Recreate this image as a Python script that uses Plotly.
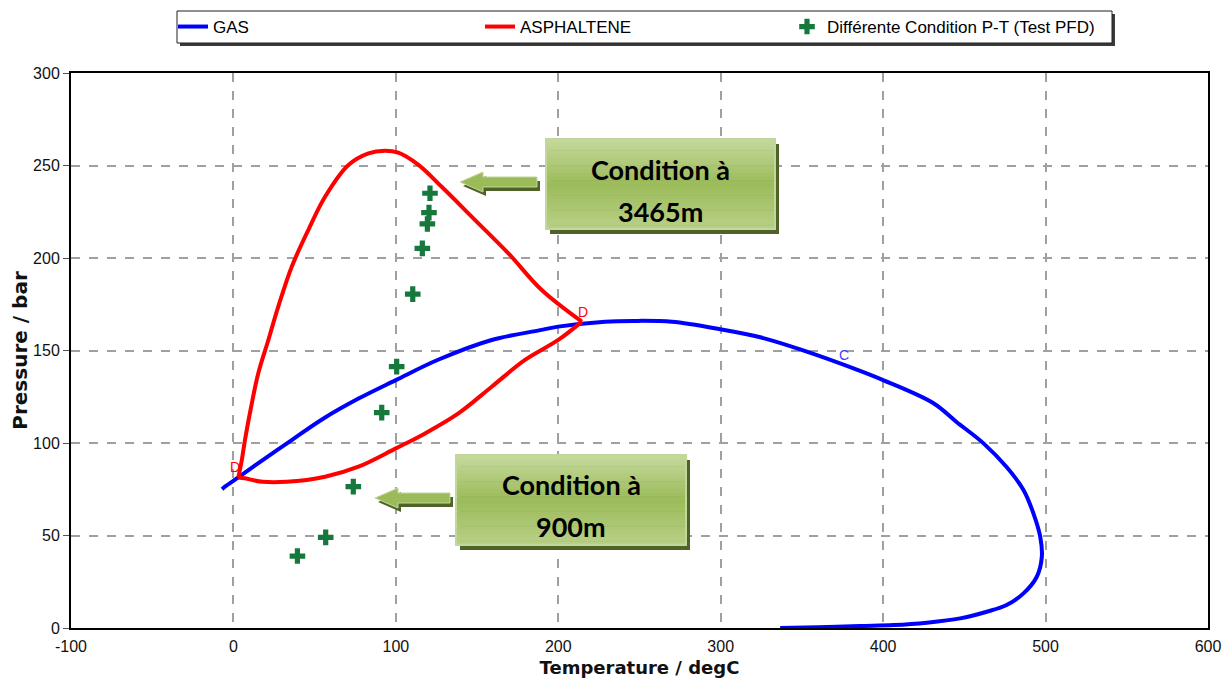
import plotly.graph_objects as go

# ---------------- data ----------------
gas_T = [-7, -5.2, 3, 20, 35.9, 55, 77, 100, 126, 159, 188.8, 200, 228.8, 246, 270,
         299.6, 325, 348.9, 385.8, 400, 431, 445, 461.8, 476, 486.4, 492.5, 496.7,
         497.7, 494.6, 486.4, 476, 463.8, 447.4, 426.9, 406.4, 385.8, 360, 336.6]
gas_P = [75, 76.4, 81.4, 92, 101.6, 113, 124, 134, 145, 155.7, 161, 162.9, 165.6, 166, 165.5,
         161.5, 157, 150.6, 139, 134, 121.5, 111.5, 99.8, 87, 74.6, 62, 49.4,
         38.5, 27.7, 18.7, 12.4, 8.8, 5.2, 2.9, 1.6, 1.1, 0.4, 0]

# asphaltene envelope: upper branch then lower branch (both from D to D)
asph_up_T = [3, 5, 7.1, 11, 15.3, 21.5, 27.6, 35.9, 46.1, 56.4, 70.8, 83.1, 93.3, 101.5,
             113.9, 128.2, 148.8, 169.3, 189.8, 214.5]
asph_up_P = [81.4, 90, 101.6, 120, 137.7, 155.7, 173.7, 195.3, 215.1, 233.1, 250.3, 256.6, 258, 256.9,
             250.3, 238.5, 220.5, 202.5, 182.7, 165.6]
asph_lo_T = [214.5, 200, 179.5, 159, 138.5, 118, 100, 77, 56.4, 32.8, 18, 7.1, 3]
asph_lo_P = [165.6, 155.7, 144.9, 130.4, 116, 105.2, 97.1, 87.2, 81.8, 79, 79, 80.9, 81.4]

pfd_T = [39.4, 56.8, 73.8, 91.3, 100.5, 110.4, 116.3, 119.4, 120.4, 121]
pfd_P = [38.9, 49, 76.4, 116.4, 141.3, 180.5, 205.2, 218.4, 224.5, 235]

d_label_T = [1, 215.5]
d_label_P = [87, 171]
c_label_T = [375.6]
c_label_P = [147.6]

x_ticks = [-100, 0, 100, 200, 300, 400, 500, 600]
y_ticks = [0, 50, 100, 150, 200, 250, 300]

box_texts = [("Condition à", "3465m"), ("Condition à", "900m")]

# ---------------- layout helpers (screen pixel -> paper) ----------------
OFF = 8  # page body margin
SW, SH = 1232, 681
L, R, T, B = 71, 1208, 73, 628
W, H = SW - OFF, SH - OFF


def px(x):
    return (x - L) / (R - L)


def py(y):
    return (B - y) / (B - T)


fig = go.Figure()

fig.add_trace(go.Scatter(x=gas_T, y=gas_P, mode="lines", name="GAS",
                         line=dict(color="#0000ff", width=4, shape="spline", smoothing=1.0)))
fig.add_trace(go.Scatter(x=asph_up_T, y=asph_up_P, mode="lines", name="ASPHALTENE",
                         legendgroup="asph",
                         line=dict(color="#ff0000", width=4, shape="spline", smoothing=1.0)))
fig.add_trace(go.Scatter(x=asph_lo_T, y=asph_lo_P, mode="lines", name="ASPHALTENE",
                         legendgroup="asph", showlegend=False,
                         line=dict(color="#ff0000", width=4, shape="spline", smoothing=1.0)))
fig.add_trace(go.Scatter(x=pfd_T, y=pfd_P, mode="markers",
                         name="Différente Condition P-T (Test PFD)",
                         marker=dict(symbol="cross", size=13, color="#16783c",
                                     line=dict(width=0))))

shapes = []

# legend frame with shadow
shapes.append(dict(type="rect", xref="paper", yref="paper", layer="above",
                   x0=px(180), x1=px(1115), y0=py(14), y1=py(46),
                   fillcolor="#3a3a3a", line=dict(width=0)))
shapes.append(dict(type="rect", xref="paper", yref="paper", layer="above",
                   x0=px(177), x1=px(1112), y0=py(11), y1=py(43),
                   fillcolor="white", line=dict(color="#202020", width=1)))


def lerp(c1, c2, t):
    return tuple(int(round(a + (b - a) * t)) for a, b in zip(c1, c2))


top_c = (198, 217, 158)
mid_c = (155, 187, 89)
bot_c = (185, 208, 136)


def grad_color(t):
    if t < 0.5:
        c = lerp(top_c, mid_c, t / 0.5)
    else:
        c = lerp(mid_c, bot_c, (t - 0.5) / 0.5)
    return "rgb(%d,%d,%d)" % c


def add_box(x0, y0, x1, y1):
    shapes.append(dict(type="rect", xref="paper", yref="paper", layer="above",
                       x0=px(x0 + 4), x1=px(x1 + 4), y0=py(y0 + 5), y1=py(y1 + 5),
                       fillcolor="rgb(79,98,40)", line=dict(width=0)))
    n = 24
    for i in range(n):
        ya = y0 + (y1 - y0) * i / n
        yb = y0 + (y1 - y0) * (i + 1) / n
        shapes.append(dict(type="rect", xref="paper", yref="paper", layer="above",
                           x0=px(x0), x1=px(x1), y0=py(ya), y1=py(yb + 0.6),
                           fillcolor=grad_color((i + 0.5) / n), line=dict(width=0)))
    shapes.append(dict(type="rect", xref="paper", yref="paper", layer="above",
                       x0=px(x0), x1=px(x1), y0=py(y0), y1=py(y1),
                       fillcolor="rgba(0,0,0,0)", line=dict(color="rgb(195,214,155)", width=2)))


def arrow_path(tip_x, tip_y, head_x, tail_x, hh, th, dx=0, dy=0):
    pts = [(tip_x, tip_y), (head_x, tip_y - hh), (head_x, tip_y - th), (tail_x, tip_y - th),
           (tail_x, tip_y + th), (head_x, tip_y + th), (head_x, tip_y + hh)]
    return "M " + " L ".join("%f,%f" % (px(x + dx), py(y + dy)) for x, y in pts) + " Z"


def add_arrow(tip_x, tip_y, head_x, tail_x):
    shapes.append(dict(type="path", xref="paper", yref="paper", layer="above",
                       path=arrow_path(tip_x, tip_y, head_x, tail_x, 10, 5, 3, 4),
                       fillcolor="rgb(79,98,40)", line=dict(width=0)))
    shapes.append(dict(type="path", xref="paper", yref="paper", layer="above",
                       path=arrow_path(tip_x, tip_y, head_x, tail_x, 10, 5),
                       fillcolor="rgb(155,187,89)", line=dict(color="rgb(195,214,155)", width=1)))


add_arrow(460, 182, 483, 537)
add_arrow(375, 498, 398, 450)
add_box(546, 139, 775, 229)
add_box(456, 455, 686, 545)

annotations = []
box_centers = [(660, 169, 211), (571, 484, 526)]
for (l1, l2), (cx, y1, y2) in zip(box_texts, box_centers):
    for txt, yy in ((l1, y1), (l2, y2)):
        annotations.append(dict(xref="paper", yref="paper", x=px(cx), y=py(yy), text="<b>%s</b>" % txt,
                                showarrow=False, xanchor="center", yanchor="middle",
                                font=dict(family="Lato", size=27, color="black")))

for t, p in zip(d_label_T, d_label_P):
    annotations.append(dict(x=t, y=p, text="D", showarrow=False, xanchor="center", yanchor="middle",
                            font=dict(family="Liberation Sans", size=14, color="#ff0000")))
for t, p in zip(c_label_T, c_label_P):
    annotations.append(dict(x=t, y=p, text="C", showarrow=False, xanchor="center", yanchor="middle",
                            font=dict(family="Liberation Sans", size=14, color="#4040ff")))

fig.update_layout(
    width=W, height=H,
    margin=dict(l=L - OFF, r=SW - R, t=T - OFF, b=SH - B, pad=0, autoexpand=False),
    plot_bgcolor="white", paper_bgcolor="white",
    shapes=shapes, annotations=annotations,
    showlegend=True,
    legend=dict(orientation="h", x=px(173), y=py(27), xanchor="left", yanchor="middle",
                bgcolor="rgba(0,0,0,0)", borderwidth=0,
                font=dict(family="Liberation Sans", size=17, color="black"),
                entrywidth=262, entrywidthmode="pixels", itemwidth=30,
                itemclick=False, itemdoubleclick=False),
    xaxis=dict(range=[-100, 600], tickvals=x_ticks, ticktext=[str(v) for v in x_ticks],
               showgrid=True, gridcolor="#a0a0a0", griddash="dash", gridwidth=1.5,
               showline=True, linecolor="black", linewidth=2, mirror=True, zeroline=False,
               ticks="outside", ticklen=3, tickcolor="rgba(0,0,0,0)", automargin=False,
               tickfont=dict(family="Liberation Sans", size=16, color="#111"),
               title=dict(text="<b>Temperature / degC</b>", standoff=7,
                          font=dict(family="DejaVu Sans", size=18, color="#111"))),
    yaxis=dict(range=[0, 300], tickvals=y_ticks, ticktext=[str(v) for v in y_ticks],
               showgrid=True, gridcolor="#a0a0a0", griddash="dash", gridwidth=1.5,
               showline=True, linecolor="black", linewidth=2, mirror=True, zeroline=False,
               ticks="outside", ticklen=6, tickcolor="#555", automargin=False,
               tickfont=dict(family="Liberation Sans", size=16, color="#111"),
               title=dict(text="<b>Pressure / bar</b>", standoff=2,
                          font=dict(family="DejaVu Sans", size=20, color="#111"))),
)

fig.write_html("out.html")
